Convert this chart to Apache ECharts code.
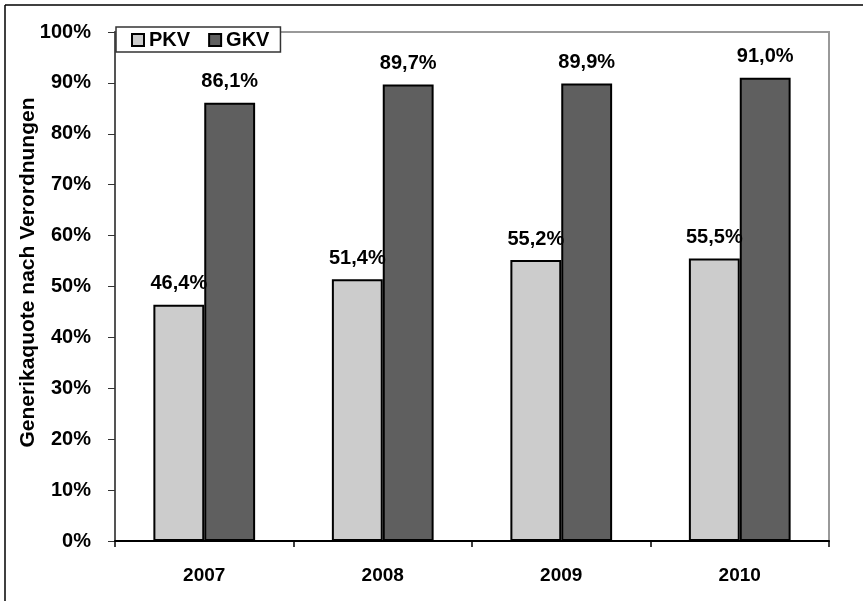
<!DOCTYPE html>
<html>
<head>
<meta charset="utf-8">
<script src="https://cdn.jsdelivr.net/npm/echarts@6/dist/echarts.min.js"></script>
<style>
  html, body { margin: 0; padding: 0; background: #fff; }
  #chart { width: 863px; height: 601px; }
</style>
</head>
<body>
<div id="chart"></div>
<script>
const years = ['2007', '2008', '2009', '2010']
const pkv = [46.4, 51.4, 55.2, 55.5]
const gkv = [86.1, 89.7, 89.9, 91.0]

const font = 'Liberation Sans, Arial, sans-serif'
const fmt = v => v.toFixed(1).replace('.', ',') + '%'

const labelStyle = {
  show: true,
  position: 'top',
  distance: 11,
  color: '#000',
  fontFamily: font,
  fontWeight: 'bold',
  fontSize: 20,
  formatter: p => fmt(p.value)
}

const chart = echarts.init(document.getElementById('chart'))
chart.setOption({
  animation: false,
  backgroundColor: '#fff',
  grid: {
    left: 115,
    right: 34,
    top: 32,
    bottom: 60,
    show: true,
    borderColor: '#999',
    borderWidth: 2
  },
  graphic: [
    { type: 'line', shape: { x1: 5, y1: 5, x2: 863, y2: 5 }, style: { stroke: '#000', lineWidth: 1.5 } },
    { type: 'line', shape: { x1: 5, y1: 5, x2: 5, y2: 601 }, style: { stroke: '#000', lineWidth: 1.5 } }
  ],
  legend: {
    left: 116,
    top: 27,
    padding: [3, 11, 2, 15],
    backgroundColor: '#fff',
    borderColor: '#333',
    borderWidth: 1.5,
    itemWidth: 12,
    itemHeight: 12,
    itemGap: 18,
    icon: 'rect',
    textStyle: { fontFamily: font, fontWeight: 'bold', fontSize: 20, color: '#000' },
    data: ['PKV', 'GKV']
  },
  xAxis: {
    type: 'category',
    data: years,
    axisLine: { lineStyle: { color: '#000', width: 2 } },
    axisTick: { show: true, inside: false, length: 6, alignWithLabel: false, lineStyle: { color: '#000', width: 1.5 } },
    axisLabel: { margin: 25, color: '#000', fontFamily: font, fontWeight: 'bold', fontSize: 19 },
    splitLine: { show: false }
  },
  yAxis: {
    type: 'value',
    min: 0,
    max: 100,
    interval: 10,
    name: 'Generikaquote nach Verordnungen',
    nameLocation: 'middle',
    nameRotate: 90,
    nameGap: 76,
    nameMoveOverlap: false,
    nameTextStyle: { color: '#000', fontFamily: font, fontWeight: 'bold', fontSize: 21, padding: [0, 0, 0, 28] },
    axisLine: { show: true, lineStyle: { color: '#555', width: 2 } },
    axisTick: { show: true, inside: false, length: 7, lineStyle: { color: '#333', width: 1 } },
    axisLabel: {
      margin: 24,
      color: '#000',
      fontFamily: font,
      fontWeight: 'bold',
      fontSize: 20,
      formatter: v => v + '%'
    },
    splitLine: { show: false }
  },
  series: [
    {
      name: 'PKV',
      type: 'bar',
      data: pkv,
      barGap: '0%',
      barCategoryGap: '43%',
      itemStyle: { color: '#cccccc', borderColor: '#000', borderWidth: 2 },
      label: labelStyle
    },
    {
      name: 'GKV',
      type: 'bar',
      data: gkv,
      itemStyle: { color: '#5f5f5f', borderColor: '#000', borderWidth: 2 },
      label: labelStyle
    }
  ]
})
</script>
</body>
</html>
